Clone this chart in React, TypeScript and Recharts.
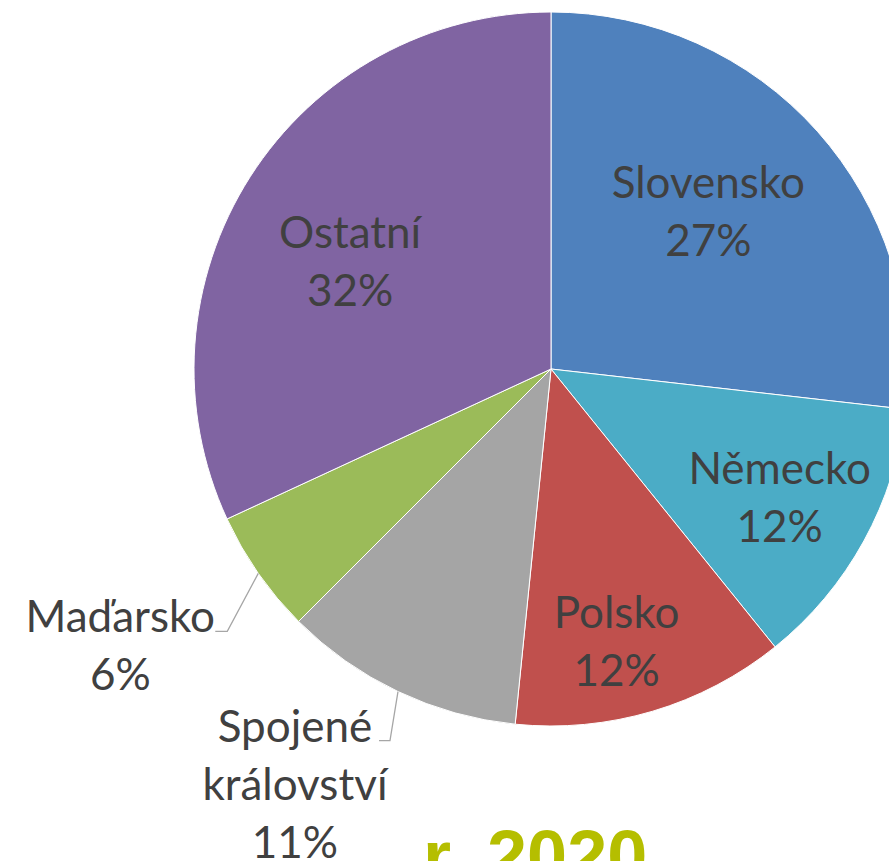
import { Cell, Pie, PieChart } from "recharts";

const CATEGORIES = ["Slovensko", "Německo", "Polsko", "Spojené království", "Maďarsko", "Ostatní"];
const SHARES = [26.8, 12.4, 12.4, 10.9, 5.6, 31.9];
const COLORS = ["#4f81bd", "#4bacc6", "#c0504d", "#a5a5a5", "#9bbb59", "#8064a2"];
const TITLE = "r. 2020";

const TEXT = "#404040";
const LEADER = "#a6a6a6";
const FONT = "Lato, 'Open Sans', sans-serif";
const FONT_SIZE = 44;
const LINE = 58;
const CAP = 16;

// label placement per slice: inside ones by radius fraction + angle nudge,
// outside ones with an elbow leader line
type Place =
  | { kind: "in"; rf: number; shift: number }
  | { kind: "out"; ex: number; ey: number; run: number; half: number };

const PLACEMENT: Place[] = [
  { kind: "in", rf: 0.625, shift: -3.4 },
  { kind: "in", rf: 0.734, shift: 0.4 },
  { kind: "in", rf: 0.784, shift: 3.0 },
  { kind: "out", ex: -8, ey: 49, run: 11, half: 84 },
  { kind: "out", ex: -31, ey: 58, run: 12, half: 95 },
  { kind: "in", rf: 0.639, shift: -4.3 },
];

const data = CATEGORIES.map((name, i) => ({ name, value: SHARES[i] }));

const rad = (d: number) => (d * Math.PI) / 180;

function renderLabel(props: any) {
  const { cx, cy, midAngle, outerRadius, index } = props;
  const place = PLACEMENT[index];
  const pct = `${Math.round(SHARES[index])}%`;
  const fromTop = 90 - midAngle;

  if (place.kind === "in") {
    const a = rad(fromTop + place.shift);
    const r = outerRadius * place.rf;
    const x = cx + r * Math.sin(a);
    const y = cy - r * Math.cos(a);
    return (
      <text x={x} textAnchor="middle" fill={TEXT} fontFamily={FONT} fontSize={FONT_SIZE} key={`l${index}`}>
        <tspan x={x} y={y - LINE / 2 + CAP}>{CATEGORIES[index]}</tspan>
        <tspan x={x} y={y + LINE / 2 + CAP}>{pct}</tspan>
      </text>
    );
  }

  const a = rad(fromTop);
  const sx = cx + outerRadius * Math.sin(a);
  const sy = cy - outerRadius * Math.cos(a);
  const ex = sx + place.ex;
  const ey = sy + place.ey;
  const hx = ex - place.run;
  const tx = hx - place.half;
  const lines = [...CATEGORIES[index].split(" "), pct];
  return (
    <g key={`l${index}`}>
      <polyline points={`${sx},${sy} ${ex},${ey} ${hx},${ey}`} fill="none" stroke={LEADER} strokeWidth={1.3} />
      <text textAnchor="middle" fill={TEXT} fontFamily={FONT} fontSize={FONT_SIZE}>
        {lines.map((t, i) => (
          <tspan key={i} x={tx} y={ey + 1 + i * LINE}>
            {t}
          </tspan>
        ))}
      </text>
    </g>
  );
}

export default function App() {
  return (
    <div style={{ position: "absolute", left: 0, top: 0, width: 889, height: 861, background: "#fff" }}>
      <PieChart width={889} height={861} margin={{ top: 0, right: 0, bottom: 0, left: 0 }}>
        <Pie
          data={data}
          dataKey="value"
          nameKey="name"
          cx={551}
          cy={369}
          outerRadius={357}
          startAngle={90}
          endAngle={-270}
          stroke="#ffffff"
          strokeWidth={1}
          label={renderLabel}
          labelLine={false}
          isAnimationActive={false}
        >
          {data.map((d, i) => (
            <Cell key={d.name} fill={COLORS[i]} />
          ))}
        </Pie>
      </PieChart>
      <svg width={889} height={861} style={{ position: "absolute", left: 0, top: 0, pointerEvents: "none" }}>
        <text x={423} y={881} fill="#b5be00" fontFamily="'Liberation Sans', Arial, sans-serif" fontWeight="bold" fontSize={72}>
          {TITLE}
        </text>
      </svg>
    </div>
  );
}
